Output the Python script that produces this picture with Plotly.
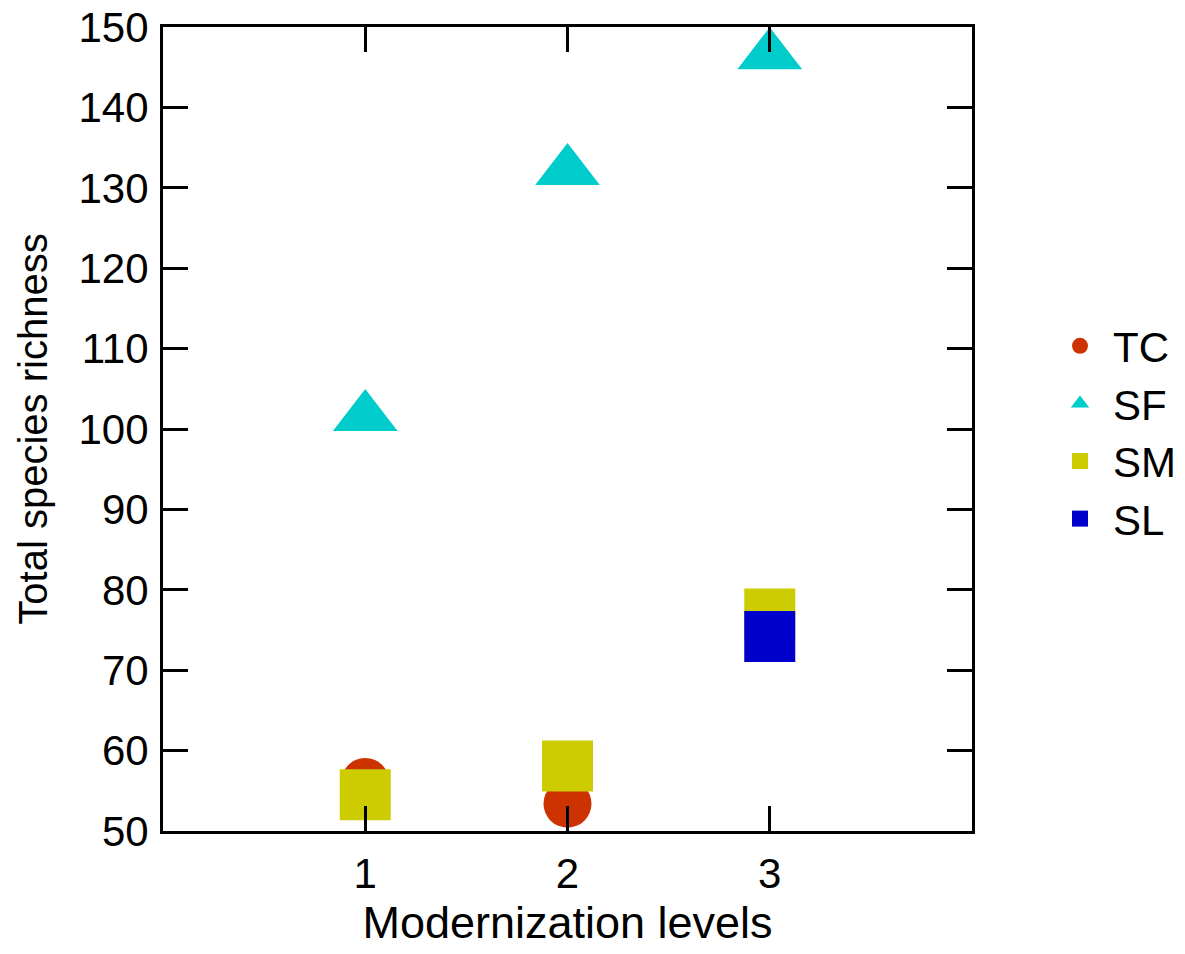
import plotly.graph_objects as go

# Data
levels_tc = [1, 2]
tc_values = [56.1, 53.4]
levels_sf = [1, 2, 3]
sf_values = [101.5, 132.1, 146.5]
levels_sm = [1, 2, 3]
sm_values = [54.5, 58.1, 77.0]
levels_sl = [3]
sl_values = [74.2]

x_ticks = [1, 2, 3]
y_ticks = [50, 60, 70, 80, 90, 100, 110, 120, 130, 140, 150]

FONT = "Liberation Sans, Arial, sans-serif"

fig = go.Figure()
fig.add_trace(go.Scatter(x=levels_tc, y=tc_values, mode="markers", name="TC",
                         marker=dict(symbol="circle", size=48, color="#CC3300"),
                         cliponaxis=False))
fig.add_trace(go.Scatter(x=levels_sf, y=sf_values, mode="markers", name="SF",
                         marker=dict(symbol="triangle-up", size=56, color="#00CCCC"),
                         cliponaxis=False))
fig.add_trace(go.Scatter(x=levels_sm, y=sm_values, mode="markers", name="SM",
                         marker=dict(symbol="square", size=51, color="#CCCC00"),
                         cliponaxis=False))
fig.add_trace(go.Scatter(x=levels_sl, y=sl_values, mode="markers", name="SL",
                         marker=dict(symbol="square", size=51, color="#0000CC"),
                         cliponaxis=False))

axis_common = dict(
    showgrid=False, zeroline=False, automargin=False,
    showline=True, linecolor="black", linewidth=3, mirror="allticks",
    ticks="inside", ticklen=25, tickwidth=3, tickcolor="black",
    tickfont=dict(family=FONT, size=42, color="black"),
    ticklabeloverflow="allow",
)

fig.update_layout(
    width=1177, height=946,
    margin=dict(l=155, r=213, t=19, b=123, autoexpand=False),
    plot_bgcolor="white", paper_bgcolor="white",
    font=dict(family=FONT, color="black"),
    xaxis=dict(range=[0, 4], tickvals=x_ticks, ticktext=[str(v) for v in x_ticks],
               title=dict(text="Modernization levels", font=dict(family=FONT, size=45), standoff=2),
               ticklabelstandoff=4,
               **axis_common),
    yaxis=dict(range=[50, 150], tickvals=y_ticks,
               title=dict(text="Total species richness", font=dict(family=FONT, size=40), standoff=19),
               ticklabelstandoff=3,
               **axis_common),
    legend=dict(x=1.0927, y=0.6455, xanchor="left", yanchor="top",
                font=dict(family=FONT, size=42), itemsizing="trace", itemwidth=56,
                bgcolor="rgba(0,0,0,0)"),
    showlegend=True,
)

fig.write_html("out.html")
